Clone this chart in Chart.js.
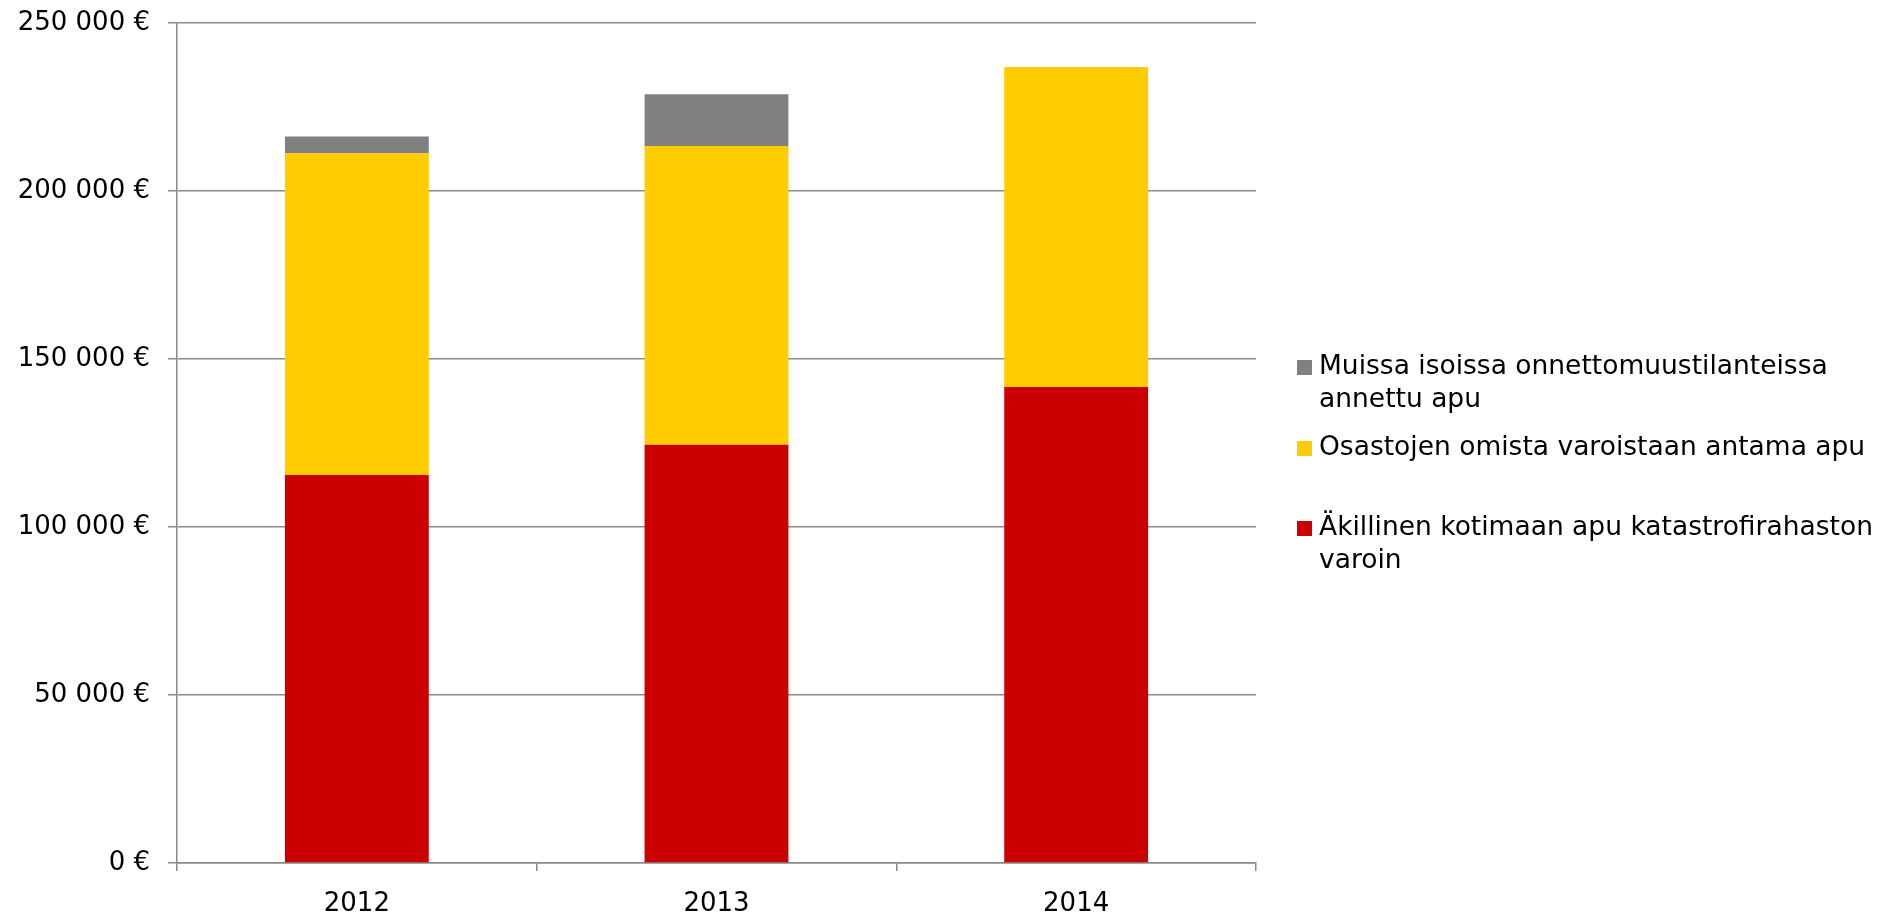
<!DOCTYPE html>
<html>
<head>
<meta charset="utf-8">
<script src="https://cdn.jsdelivr.net/npm/chart.js@4/dist/chart.umd.min.js"></script>
<style>
  body { margin: 0; background: #fff; }
  canvas { display: block; }
</style>
</head>
<body>
<canvas id="apuChart" width="1897" height="913"></canvas>
<script>
const years = ['2012', '2013', '2014'];
// stacked from the bottom up
const katastrofirahasto = [115500, 124500, 141700];
const osastojenVarat = [95700, 88900, 95200];
const muutOnnettomuudet = [5000, 15400, 0];

const yTicks = [0, 50000, 100000, 150000, 200000, 250000];

const legendLines = [
  ['Muissa isoissa onnettomuustilanteissa', 'annettu apu'],
  ['Osastojen omista varoistaan antama apu'],
  ['Äkillinen kotimaan apu katastrofirahaston', 'varoin']
];

const fontFamily = '"DejaVu Sans", Verdana, sans-serif';
const gridGray = '#8a8a8a';

// right-hand legend, drawn by hand so the labels can wrap like the original
const sideLegend = {
  id: 'sideLegend',
  afterDraw(chart) {
    const c = chart.ctx;
    const sets = chart.data.datasets.slice().reverse();
    const itemY = [367, 448, 528];
    c.save();
    c.font = '26.5px ' + fontFamily;
    c.textBaseline = 'middle';
    sets.forEach((ds, i) => {
      c.fillStyle = ds.backgroundColor;
      c.fillRect(1297, itemY[i] - 7, 15, 15);
      c.fillStyle = '#000';
      legendLines[i].forEach((line, j) => {
        c.fillText(line, 1319, itemY[i] + j * 33);
      });
    });
    c.restore();
  }
};

const ctx = document.getElementById('apuChart');
new Chart(ctx, {
  type: 'bar',
  data: {
    labels: years,
    datasets: [{
      label: legendLines[2].join(' '),
      data: katastrofirahasto,
      backgroundColor: '#cc0000'
    }, {
      label: legendLines[1].join(' '),
      data: osastojenVarat,
      backgroundColor: '#ffcc00'
    }, {
      label: legendLines[0].join(' '),
      data: muutOnnettomuudet,
      backgroundColor: '#808080'
    }]
  },
  options: {
    responsive: false,
    devicePixelRatio: 1,
    animation: false,
    layout: { padding: { top: 23, right: 641, left: 0, bottom: 0 } },
    datasets: { bar: { barPercentage: 0.4, categoryPercentage: 1 } },
    scales: {
      x: {
        stacked: true,
        grid: { drawOnChartArea: false, tickLength: 8, color: gridGray, lineWidth: 1.5 },
        border: { color: gridGray, width: 1.5 },
        ticks: { color: '#000', font: { family: fontFamily, size: 26 }, padding: 18 },
        afterFit: s => { s.height = 50; }
      },
      y: {
        stacked: true,
        min: 0,
        max: 250000,
        afterBuildTicks: s => { s.ticks = yTicks.map(v => ({ value: v })); },
        grid: { color: gridGray, lineWidth: 1.5, tickLength: 9 },
        border: { color: gridGray, width: 1.5 },
        ticks: {
          color: '#000',
          font: { family: fontFamily, size: 26 },
          padding: 18,
          callback: v => String(v).replace(/\B(?=(\d{3})+(?!\d))/g, ' ') + ' €'
        },
        afterFit: s => {
          s.width = 177;
          s.paddingTop = 0;
          s.paddingBottom = 0;
        }
      }
    },
    plugins: {
      legend: { display: false },
      tooltip: { enabled: false }
    }
  },
  plugins: [sideLegend]
});
</script>
</body>
</html>
